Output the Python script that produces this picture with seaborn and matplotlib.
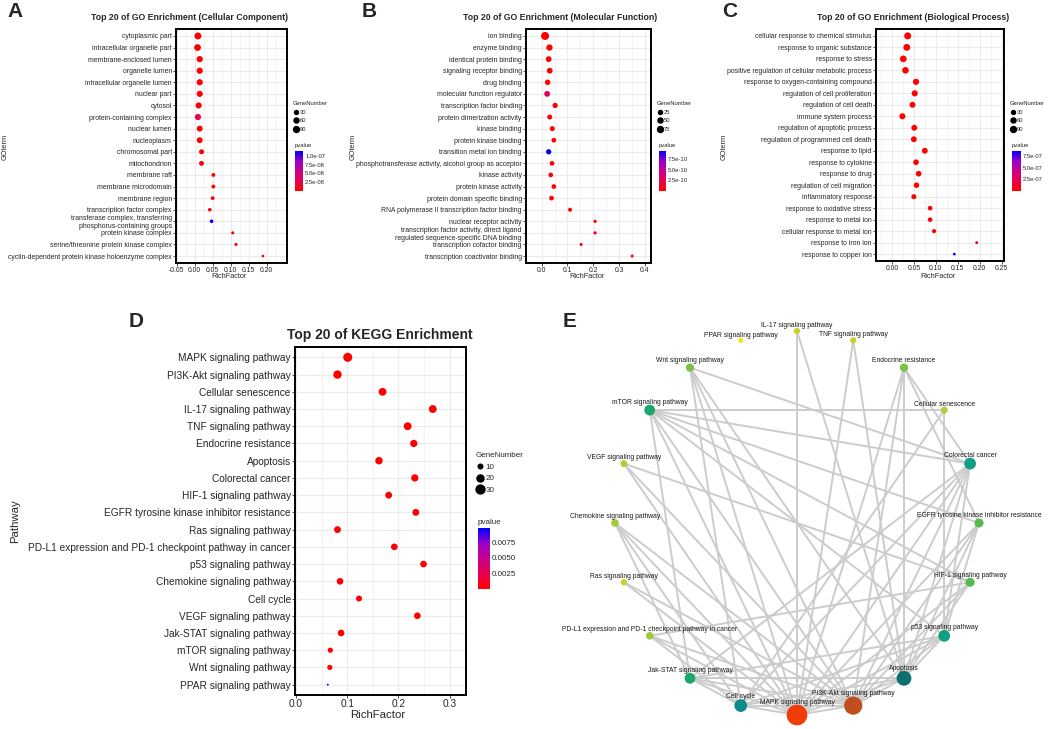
import numpy as np
import pandas as pd
import matplotlib
matplotlib.use("Agg")
import matplotlib as mpl
import matplotlib.pyplot as plt
import seaborn as sns
from matplotlib.colors import LinearSegmentedColormap, Normalize
from matplotlib.collections import LineCollection
from matplotlib.lines import Line2D


# ---------------- data ----------------
cc_terms = ["cytoplasmic part", "intracellular organelle part", "membrane-enclosed lumen",
            "organelle lumen", "intracellular organelle lumen", "nuclear part", "cytosol",
            "protein-containing complex", "nuclear lumen", "nucleoplasm", "chromosomal part",
            "mitochondrion", "membrane raft", "membrane microdomain", "membrane region",
            "transcription factor complex",
            "transferase complex, transferring\nphosphorus-containing groups",
            "protein kinase complex", "serine/threonine protein kinase complex",
            "cyclin-dependent protein kinase holoenzyme complex"]
cc_rich = [0.009, 0.008, 0.014, 0.014, 0.014, 0.014, 0.011, 0.009, 0.014, 0.014,
           0.019, 0.019, 0.052, 0.052, 0.050, 0.042, 0.047, 0.106, 0.115, 0.190]
cc_genes = [130, 120, 100, 100, 100, 98, 96, 100, 90, 88,
            60, 55, 28, 28, 27, 22, 22, 12, 11, 5]
cc_pvalue = [1e-20, 2e-15, 1e-18, 1e-18, 1e-18, 1e-17, 1e-16, 2.8e-08, 1e-15, 1e-15,
             3e-10, 2e-09, 5e-11, 5e-11, 1e-10, 8e-09, 1.14e-07, 2e-09, 3e-09, 4e-09]

mf_terms = ["ion binding", "enzyme binding", "identical protein binding",
            "signaling receptor binding", "drug binding", "molecular function regulator",
            "transcription factor binding", "protein dimerization activity", "kinase binding",
            "protein kinase binding", "transition metal ion binding",
            "phosphotransferase activity, alcohol group as acceptor", "kinase activity",
            "protein kinase activity", "protein domain specific binding",
            "RNA polymerase II transcription factor binding", "nuclear receptor activity",
            "transcription factor activity, direct ligand\nregulated sequence-specific DNA binding",
            "transcription cofactor binding", "transcription coactivator binding"]
mf_rich = [0.013, 0.030, 0.027, 0.031, 0.023, 0.021, 0.052, 0.031, 0.041, 0.047,
           0.027, 0.040, 0.035, 0.047, 0.038, 0.110, 0.207, 0.207, 0.153, 0.351]
mf_genes = [150, 86, 70, 70, 62, 70, 55, 48, 48, 40,
            55, 40, 40, 40, 40, 24, 10, 10, 7, 6]
mf_pvalue = [1e-14, 1e-13, 5e-12, 1e-12, 3e-11, 2.6e-10, 2e-12, 4e-11, 2e-12, 1e-12,
             9.4e-10, 3e-11, 5e-11, 1e-12, 2e-11, 1e-11, 2e-11, 2e-11, 5e-11, 4e-11]

bp_terms = ["cellular response to chemical stimulus", "response to organic substance",
            "response to stress", "positive regulation of cellular metabolic process",
            "response to oxygen-containing compound", "regulation of cell proliferation",
            "regulation of cell death", "immune system process",
            "regulation of apoptotic process", "regulation of programmed cell death",
            "response to lipid", "response to cytokine", "response to drug",
            "regulation of cell migration", "inflammatory response",
            "response to oxidative stress", "response to metal ion",
            "cellular response to metal ion", "response to iron ion", "response to copper ion"]
bp_rich = [0.036, 0.034, 0.026, 0.031, 0.055, 0.052, 0.047, 0.024, 0.051, 0.050,
           0.075, 0.055, 0.061, 0.056, 0.050, 0.087, 0.087, 0.096, 0.193, 0.142]
bp_genes = [130, 125, 120, 115, 100, 95, 90, 95, 88, 86,
            85, 80, 80, 75, 60, 48, 45, 35, 8, 5]
bp_pvalue = [1e-30, 1e-28, 1e-20, 1e-22, 1e-25, 1e-22, 1e-20, 1e-15, 1e-20, 1e-20,
             1e-20, 1e-18, 1e-16, 1e-15, 1e-14, 1e-12, 1e-11, 1e-10, 1.3e-07, 8.6e-07]

kegg_terms = ["MAPK signaling pathway", "PI3K-Akt signaling pathway", "Cellular senescence",
              "IL-17 signaling pathway", "TNF signaling pathway", "Endocrine resistance",
              "Apoptosis", "Colorectal cancer", "HIF-1 signaling pathway",
              "EGFR tyrosine kinase inhibitor resistance", "Ras signaling pathway",
              "PD-L1 expression and PD-1 checkpoint pathway in cancer",
              "p53 signaling pathway", "Chemokine signaling pathway", "Cell cycle",
              "VEGF signaling pathway", "Jak-STAT signaling pathway", "mTOR signaling pathway",
              "Wnt signaling pathway", "PPAR signaling pathway"]
kegg_rich = [0.101, 0.081, 0.169, 0.267, 0.218, 0.230, 0.162, 0.232, 0.181, 0.234,
             0.081, 0.192, 0.249, 0.086, 0.123, 0.237, 0.088, 0.067, 0.066, 0.062]
kegg_genes = [31, 27, 24, 24, 24, 21, 22, 21, 19, 19,
              19, 18, 18, 18, 15, 18, 18, 12, 12, 4]
kegg_pvalue = [1e-20, 1e-18, 1e-15, 1e-17, 1e-15, 1e-14, 1e-12, 1e-13, 1e-12, 1e-12,
               1e-8, 1e-10, 1e-11, 1e-7, 1e-8, 1e-10, 1e-7, 1e-5, 1e-5, 0.0098]

# network nodes in circle order (starting at the bottom, counter-clockwise)
net_nodes = ["MAPK signaling pathway", "PI3K-Akt signaling pathway", "Apoptosis",
             "p53 signaling pathway", "HIF-1 signaling pathway",
             "EGFR tyrosine kinase inhibitor resistance", "Colorectal cancer",
             "Cellular senescence", "Endocrine resistance", "TNF signaling pathway",
             "IL-17 signaling pathway", "PPAR signaling pathway", "Wnt signaling pathway",
             "mTOR signaling pathway", "VEGF signaling pathway", "Chemokine signaling pathway",
             "Ras signaling pathway", "PD-L1 expression and PD-1 checkpoint pathway in cancer",
             "Jak-STAT signaling pathway", "Cell cycle"]
net_short = ["MAPK", "PI3K", "Apoptosis", "p53", "HIF-1", "EGFR", "Colorectal",
             "Cellular senescence", "Endocrine", "TNF", "IL-17", "PPAR", "Wnt", "mTOR",
             "VEGF", "Chemokine", "Ras", "PD-L1", "Jak-STAT", "Cell cycle"]
net_edges = [
    ("MAPK", "PI3K"), ("MAPK", "Apoptosis"), ("MAPK", "p53"), ("MAPK", "HIF-1"),
    ("MAPK", "EGFR"), ("MAPK", "Colorectal"), ("MAPK", "Endocrine"), ("MAPK", "TNF"),
    ("MAPK", "IL-17"), ("MAPK", "Wnt"), ("MAPK", "mTOR"), ("MAPK", "Chemokine"),
    ("MAPK", "Ras"), ("MAPK", "PD-L1"), ("MAPK", "Jak-STAT"), ("MAPK", "Cell cycle"),
    ("MAPK", "VEGF"),
    ("PI3K", "Apoptosis"), ("PI3K", "p53"), ("PI3K", "HIF-1"), ("PI3K", "EGFR"),
    ("PI3K", "Colorectal"), ("PI3K", "Endocrine"), ("PI3K", "mTOR"), ("PI3K", "VEGF"),
    ("PI3K", "Chemokine"), ("PI3K", "Ras"), ("PI3K", "PD-L1"), ("PI3K", "Jak-STAT"),
    ("PI3K", "Cell cycle"), ("PI3K", "Wnt"),
    ("Apoptosis", "p53"), ("Apoptosis", "Colorectal"), ("Apoptosis", "Endocrine"),
    ("Apoptosis", "TNF"), ("Apoptosis", "IL-17"), ("Apoptosis", "Jak-STAT"),
    ("Apoptosis", "Cell cycle"), ("Apoptosis", "EGFR"), ("Apoptosis", "HIF-1"),
    ("Apoptosis", "Wnt"),
    ("Cell cycle", "p53"), ("Cell cycle", "Colorectal"), ("Cell cycle", "Cellular senescence"),
    ("Cell cycle", "Wnt"), ("Cell cycle", "Chemokine"), ("Cell cycle", "PD-L1"),
    ("Cell cycle", "Jak-STAT"),
    ("p53", "Cellular senescence"), ("p53", "Colorectal"), ("p53", "EGFR"),
    ("p53", "Jak-STAT"), ("p53", "mTOR"),
    ("Colorectal", "mTOR"), ("Colorectal", "Wnt"), ("Colorectal", "Jak-STAT"),
    ("Colorectal", "Endocrine"),
    ("mTOR", "Cellular senescence"), ("mTOR", "EGFR"), ("mTOR", "HIF-1"), ("mTOR", "Jak-STAT"),
    ("Jak-STAT", "Chemokine"), ("EGFR", "Endocrine"),
    ("HIF-1", "VEGF"), ("HIF-1", "PD-L1"),
]


# ---------------- style ----------------
sns.set_theme(style="white")
plt.rcParams["font.family"] = ["Liberation Sans", "DejaVu Sans"]

W, H = 1052, 729
fig = plt.figure(figsize=(W / 100, H / 100), dpi=100)

pcmap = LinearSegmentedColormap.from_list(
    "pv", ["#ff0000", "#e8004f", "#c8008f", "#9800c9", "#0000ff"])


def rect(x0, y0, x1, y1):
    return [x0 / W, 1 - y1 / H, (x1 - x0) / W, (y1 - y0) / H]


def ftext(x, y, s, **kw):
    fig.text(x / W, 1 - y / H, s, **kw)


def dot_panel(box, terms, rich, genes, pvalue, xlim, major, minor, xfmt,
              size_a, size_b, size_keys, fs, leg_xy, leg_space, cbar_box, cbar_ticks,
              cbar_fmt, leg_fs):
    ax = fig.add_axes(rect(*box))
    df = pd.DataFrame({"term": terms, "RichFactor": rich,
                       "GeneNumber": genes, "pvalue": pvalue})
    vmax = max(pvalue)
    sns.scatterplot(data=df, x="RichFactor", y="term", size="GeneNumber",
                    sizes=(size_a, size_a + size_b * 200), size_norm=(0, 200),
                    hue="pvalue", palette=pcmap, hue_norm=(0, vmax),
                    linewidth=0, legend=False, ax=ax, zorder=3)
    ax.set_xlim(*xlim)
    ax.set_ylim(len(terms) - 0.4, -0.6)
    ax.set_xticks(major)
    ax.set_xticklabels([xfmt.format(v) for v in major])
    ax.set_xticks(minor, minor=True)
    ax.set_axisbelow(True)
    ax.grid(True, which="major", color="#ebebeb", lw=0.8)
    ax.grid(True, which="minor", axis="x", color="#ebebeb", lw=0.4)
    ax.tick_params(axis="both", which="major", left=True, bottom=True, length=2,
                   width=0.6, color="#333333", pad=1, labelsize=fs, labelcolor="#262626")
    ax.tick_params(which="minor", length=0)
    for sp in ax.spines.values():
        sp.set_color("black")
        sp.set_linewidth(1.4)
    ax.set_xlabel("")
    ax.set_ylabel("")

    # size legend
    handles = [Line2D([], [], marker="o", linestyle="", color="black",
                      markersize=np.sqrt(size_a + size_b * v)) for v in size_keys]
    fig.legend(handles, [str(v) for v in size_keys], title="GeneNumber",
               loc="upper left", bbox_to_anchor=(leg_xy[0] / W, 1 - leg_xy[1] / H),
               frameon=False, fontsize=leg_fs, title_fontsize=leg_fs, borderpad=0,
               borderaxespad=0, labelspacing=leg_space, handlelength=1.0,
               handletextpad=0.2, alignment="left")

    # colour bar
    cax = fig.add_axes(rect(*cbar_box))
    cb = mpl.colorbar.ColorbarBase(cax, cmap=pcmap, norm=Normalize(0, vmax))
    cb.outline.set_visible(False)
    cb.set_ticks(cbar_ticks)
    cb.set_ticklabels([cbar_fmt.format(t) for t in cbar_ticks])
    cax.tick_params(axis="y", which="both", left=True, right=True, direction="in",
                    length=1.5, width=0.5, color="white", labelsize=leg_fs,
                    labelcolor="#262626", pad=1.5)
    ftext(cbar_box[0], cbar_box[1] - 5, "pvalue", fontsize=leg_fs, color="#262626",
          va="center", ha="left")
    return ax


small = dict(fs=4.95, leg_fs=4.2, leg_space=0.6)

# A
dot_panel((176, 29, 287, 263), cc_terms, cc_rich, cc_genes, cc_pvalue,
          (-0.052, 0.257), [-0.05, 0, 0.05, 0.10, 0.15, 0.20],
          [-0.025, 0.025, 0.075, 0.125, 0.175, 0.225], "{:.2f}",
          3.0, 0.17, [30, 60, 90], leg_xy=(293, 101),
          cbar_box=(295, 151, 303, 191), cbar_ticks=[2.5e-08, 5.0e-08, 7.5e-08, 1.0e-07],
          cbar_fmt="{:.1e}", **small)
# B
dot_panel((526, 29, 651, 263), mf_terms, mf_rich, mf_genes, mf_pvalue,
          (-0.061, 0.424), [0.0, 0.1, 0.2, 0.3, 0.4], [0.05, 0.15, 0.25, 0.35], "{:.1f}",
          3.5, 0.2, [25, 50, 75], leg_xy=(657, 101),
          cbar_box=(659, 151, 666, 191), cbar_ticks=[2.5e-10, 5.0e-10, 7.5e-10],
          cbar_fmt="{:.1e}", **small)
# C
dot_panel((876, 29, 1004, 261), bp_terms, bp_rich, bp_genes, bp_pvalue,
          (-0.036, 0.255), [0.0, 0.05, 0.10, 0.15, 0.20, 0.25],
          [-0.025, 0.025, 0.075, 0.125, 0.175, 0.225], "{:.2f}",
          3.0, 0.17, [30, 60, 90], leg_xy=(1010, 101),
          cbar_box=(1012, 151, 1021, 191), cbar_ticks=[2.5e-07, 5.0e-07, 7.5e-07],
          cbar_fmt="{:.1e}", **small)
# D
dot_panel((295, 347, 466, 695), kegg_terms, kegg_rich, kegg_genes, kegg_pvalue,
          (-0.002, 0.332), [0.0, 0.1, 0.2, 0.3], [0.05, 0.15, 0.25], "{:.1f}",
          -4.0, 1.5, [10, 20, 30], leg_xy=(476, 452), leg_space=0.5,
          cbar_box=(478, 528, 490, 589), cbar_ticks=[0.0025, 0.0050, 0.0075],
          cbar_fmt="{:.4f}", fs=7.3, leg_fs=5.8)

# titles and axis labels
ftext(190, 17, "Top 20 of GO Enrichment (Cellular Component)", fontsize=6.3,
      fontweight="bold", ha="center", va="center")
ftext(560, 17, "Top 20 of GO Enrichment (Molecular Function)", fontsize=6.3,
      fontweight="bold", ha="center", va="center")
ftext(913, 17, "Top 20 of GO Enrichment (Biological Process)", fontsize=6.3,
      fontweight="bold", ha="center", va="center")
ftext(380, 335, "Top 20 of KEGG Enrichment", fontsize=10,
      fontweight="bold", ha="center", va="center")
for x, y in [(229, 277), (587, 277), (938, 276)]:
    ftext(x, y, "RichFactor", fontsize=5.3, ha="center", va="center")
for x in [5, 353, 724]:
    ftext(x, 147, "GOterm", fontsize=5.3, rotation=90, ha="center", va="center")
ftext(378, 715, "RichFactor", fontsize=8.2, ha="center", va="center")
ftext(15, 521, "Pathway", fontsize=8.2, rotation=90, ha="center", va="center")

# panel letters
for x, y, s in [(7, 2, "A"), (362, 2, "B"), (722, 2, "C"), (129, 312, "D"), (563, 312, "E")]:
    ftext(x, y, s, fontsize=15, fontweight="bold", ha="left", va="top")


# ---------------- E: network ----------------
ax_e = fig.add_axes(rect(560, 300, 1052, 729))
ax_e.axis("off")
ax_e.set_xlim(-1.302, 1.401)
ax_e.set_ylim(-1.073, 1.161)

angles = np.deg2rad(-90 + 360 / len(net_nodes) * np.arange(len(net_nodes)))
nodes = pd.DataFrame({"name": net_nodes, "short": net_short,
                      "x": np.cos(angles), "y": np.sin(angles)})
deg = {s: 0 for s in net_short}
for a, b in net_edges:
    deg[a] += 1
    deg[b] += 1
nodes["degree"] = nodes["short"].map(deg)
pos = nodes.set_index("short")[["x", "y"]]

segs = [[pos.loc[a].values, pos.loc[b].values] for a, b in net_edges]
ax_e.add_collection(LineCollection(segs, colors="#cccccc", linewidths=1.4, zorder=1))

deg_colors = [(0, "#f6e500"), (2, "#c9d126"), (3, "#b0cc33"), (4, "#a2c93a"),
              (5, "#7cc143"), (6, "#58b950"), (8, "#1ca86c"), (9, "#0f9f82"),
              (10, "#0d8b89"), (12, "#0b706d"), (15, "#c14e1c"), (17, "#f03c05")]
dmax = nodes["degree"].max()
ncmap = LinearSegmentedColormap.from_list("deg", [(d / dmax, c) for d, c in deg_colors])


def node_diam(d):
    return 5 + 0.55 * d + 0.022 * d ** 2  # pixels


size_lut = {d: (node_diam(d) * 0.72) ** 2 for d in nodes["degree"].unique()}
sns.scatterplot(data=nodes, x="x", y="y", hue="degree", palette=ncmap, hue_norm=(0, dmax),
                size="degree", sizes=size_lut, linewidth=0, legend=False, ax=ax_e, zorder=2)
ax_e.set_xlabel("")
ax_e.set_ylabel("")
for _, r in nodes.iterrows():
    off = (node_diam(r["degree"]) / 2 + 2.5) * 0.72
    ax_e.annotate(r["name"], (r["x"], r["y"]), xytext=(0, off), textcoords="offset points",
                  ha="center", va="center", fontsize=4.9, color="#1a1a1a", zorder=3)

fig.savefig("out.png", dpi=100)
